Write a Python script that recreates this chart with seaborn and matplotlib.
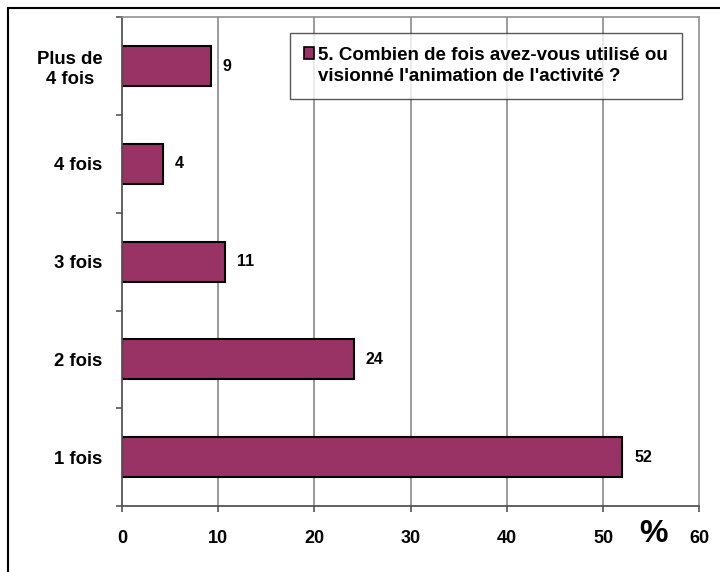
import matplotlib
matplotlib.use("Agg")
import matplotlib.pyplot as plt
from matplotlib.patches import Rectangle
from matplotlib.legend_handler import HandlerPatch
import seaborn as sns
import pandas as pd

categories = ["Plus de\n4 fois", "4 fois", "3 fois", "2 fois", "1 fois"]
percent = [9.2, 4.3, 10.7, 24.1, 52.0]
series_name = "5. Combien de fois avez-vous utilisé ou\nvisionné l'animation de l'activité ?"
x_ticks = [0, 10, 20, 30, 40, 50, 60]
bar_color = "#993366"

sns.set_style("white")
plt.rcParams["font.family"] = ["Liberation Sans", "DejaVu Sans"]
plt.rcParams["font.weight"] = "bold"
plt.rcParams["text.color"] = "black"
plt.rcParams["xtick.color"] = "black"
plt.rcParams["ytick.color"] = "black"
plt.rcParams["axes.labelcolor"] = "black"

df = pd.DataFrame({"cat": categories, "pct": percent, "serie": [series_name] * len(categories)})

fig = plt.figure(figsize=(7.2, 5.72), dpi=100)
ax = fig.add_axes([122 / 720, 66 / 572, 577.3 / 720, 488.7 / 572])

sns.barplot(data=df, x="pct", y="cat", hue="serie", order=categories,
            palette=[bar_color], orient="h", width=0.41, edgecolor="black",
            linewidth=1.5, saturation=1, ax=ax, legend=True)

ax.set_xlim(0, 60)
ax.set_ylim(4.5, -0.5)
ax.set_xticks(x_ticks)
ax.set_xticklabels([str(t) for t in x_ticks])
ax.set_xlabel("")
ax.set_ylabel("")

# grid
ax.grid(False)
for t in x_ticks[1:-1]:
    ax.axvline(t, color="#808080", lw=1.1, zorder=0)

for s in ["top", "right"]:
    ax.spines[s].set_color("#909090")
    ax.spines[s].set_linewidth(1.2)
for s in ["left", "bottom"]:
    ax.spines[s].set_color("#555555")
    ax.spines[s].set_linewidth(1.3)

ax.tick_params(axis="x", which="major", direction="out", length=4, width=1.2,
               color="#555555", labelcolor="black", pad=13, labelsize=13, bottom=True)
ax.tick_params(axis="y", which="major", length=0, pad=14, labelsize=13.3,
               labelcolor="black", left=True)
ax.set_yticks([i + 0.5 for i in range(-1, 5)], minor=True)
ax.tick_params(axis="y", which="minor", direction="out", length=4, width=1.2,
               color="#555555", left=True)
for lab in ax.get_yticklabels():
    lab.set_multialignment("center")
    lab.set_fontweight("bold")
for lab in ax.get_xticklabels():
    lab.set_fontweight("bold")

for cont in ax.containers:
    ax.bar_label(cont, fmt="%.0f", padding=8.5, fontsize=11.5, fontweight="bold",
                 color="black")

ax.text(0.9215, -0.057, "%", transform=ax.transAxes, ha="center", va="center",
        fontsize=23, fontweight="bold", color="black")

# legend with handle at first line
def first_line_patch(legend, orig_handle, xdescent, ydescent, width, height, fontsize):
    return Rectangle((-xdescent, -ydescent + fontsize * 0.68), width, height)

handles, labels = ax.get_legend_handles_labels()
leg = ax.legend(handles, labels, loc="center", bbox_to_anchor=(0.6305, 0.9005),
                borderaxespad=0, fancybox=False, frameon=True,
                prop={"weight": "bold", "size": 13.5},
                handlelength=0.55, handleheight=0.55, handletextpad=0.22,
                borderpad=0.75, edgecolor="#303030",
                handler_map={type(handles[0]): HandlerPatch(patch_func=first_line_patch)})
leg.get_frame().set_linewidth(1.0)
for t in leg.get_texts():
    t.set_color("black")
    t.set_linespacing(1.32)
for h in leg.legend_handles:
    h.set_edgecolor("black")
    h.set_linewidth(1.2)

# outer border
fig.add_artist(Rectangle((8 / 720, -0.1), 1.2, (572 - 8) / 572 + 0.1,
                         transform=fig.transFigure, fill=False,
                         edgecolor="black", lw=1.5))

fig.savefig("out.png", dpi=100)
